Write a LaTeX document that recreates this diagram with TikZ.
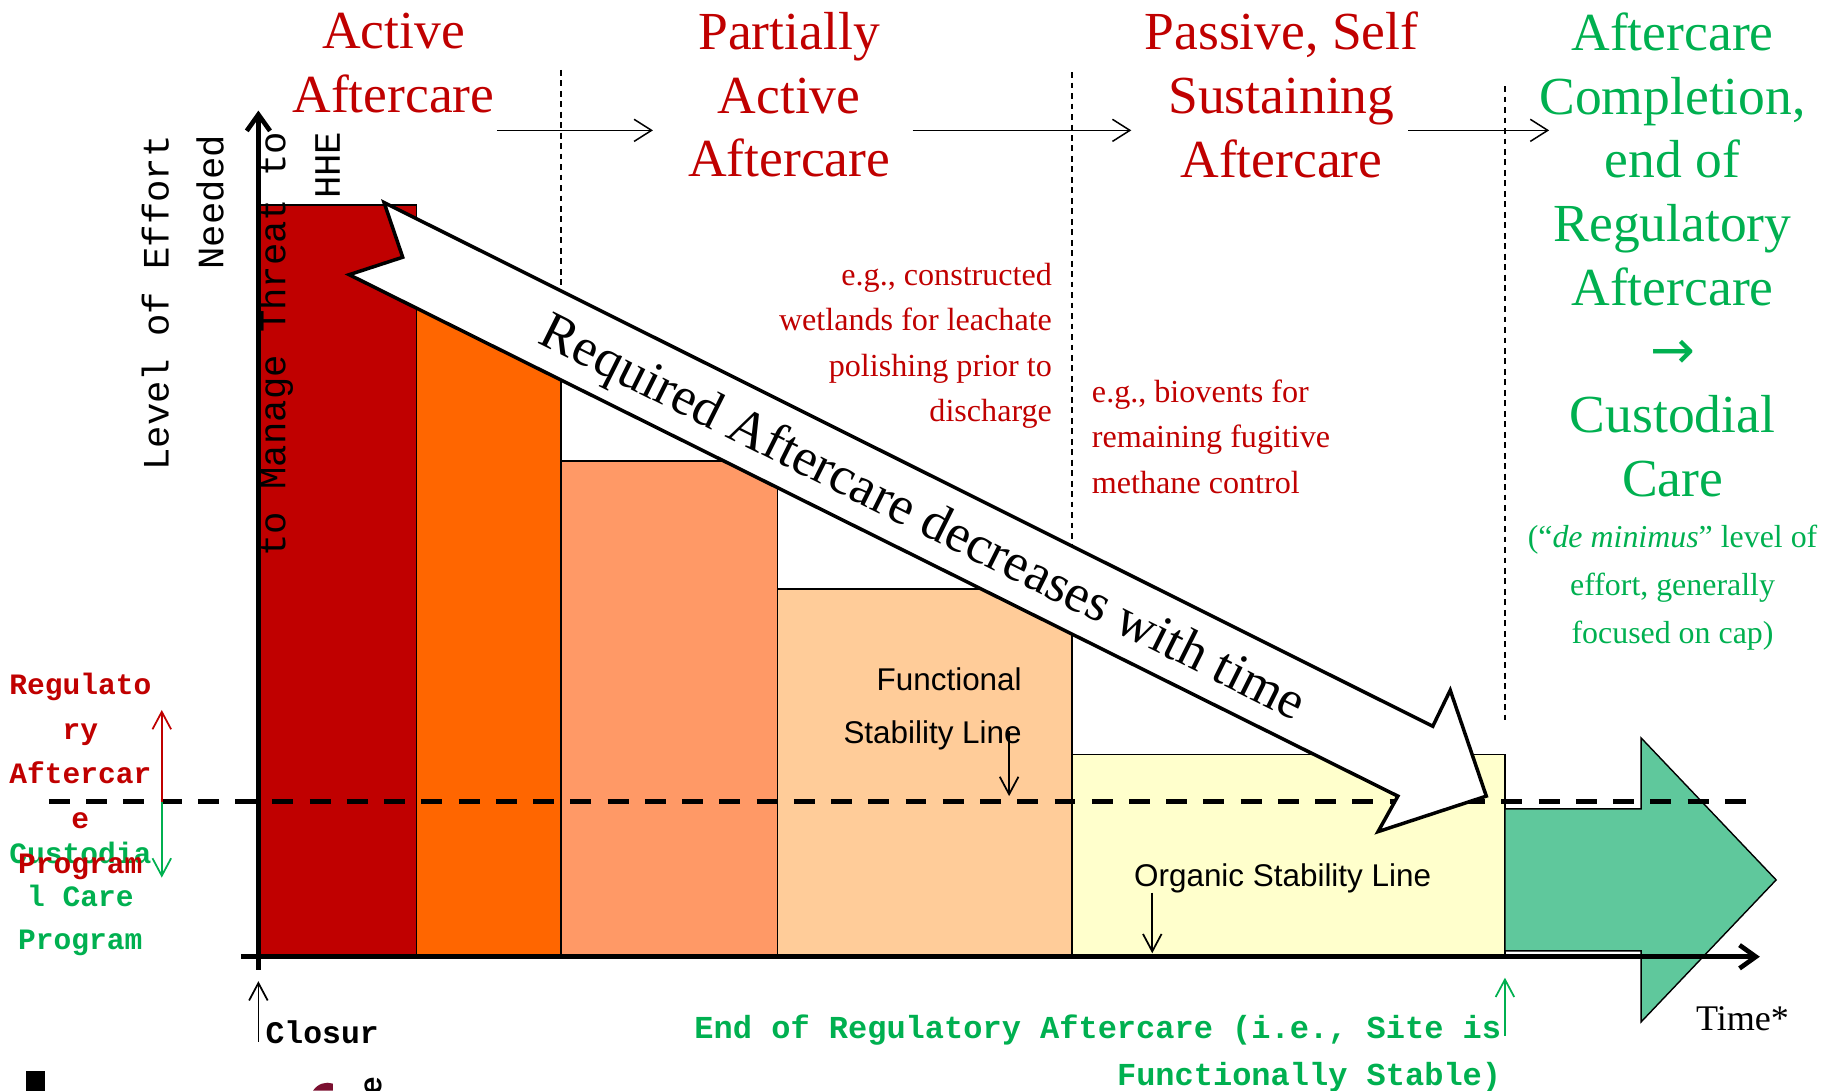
\documentclass[tikz,border=0pt]{standalone}
\usepackage{fontspec}
\setmainfont{Liberation Serif}
\newfontfamily\courier{Liberation Mono}
\newfontfamily\arial{Liberation Sans}
\newfontfamily\symb{DejaVu Sans}
\usetikzlibrary{arrows.meta}

\definecolor{barred}{HTML}{C00000}
\definecolor{barorange}{HTML}{FF6600}
\definecolor{barsalmon}{HTML}{FF9966}
\definecolor{barpeach}{HTML}{FFCC99}
\definecolor{baryellow}{HTML}{FFFFCC}
\definecolor{custgreen}{HTML}{5FC89C}
\definecolor{txtred}{HTML}{C00000}
\definecolor{txtgreen}{HTML}{00B050}
\definecolor{logored}{HTML}{7B1030}

\tikzset{
  bar/.style={draw=black, line width=1.2pt},
  phase/.style={font=\fontsize{46}{54.7}\selectfont, align=center, inner sep=0pt},
  note/.style={text=txtred, font=\fontsize{27.6}{39}\selectfont, inner sep=0pt},
  mono/.style={font=\courier\bfseries\fontsize{25.4}{38.5}\selectfont, inner sep=0pt, align=center},
  ylab/.style={font=\courier\fontsize{32}{47}\selectfont, rotate=90, align=right, inner sep=0pt, anchor=east},
  mainaxis/.style={line width=4pt, -{Straight Barb[length=14pt,width=20pt]}},
  phasearrow/.style={line width=1.3pt, -{Straight Barb[length=15pt,width=19pt]}},
  divider/.style={line width=1.3pt, dash pattern=on 5pt off 4pt},
  threshold/.style={line width=4.3pt, dash pattern=on 18pt off 14pt},
  pointer/.style={line width=1.5pt, -{Straight Barb[length=15pt,width=16pt]}},
}

\begin{document}
\begin{tikzpicture}[x=1pt,y=-1pt]
    \useasboundingbox (0,0) rectangle (1568,937);

    % stepped bars of aftercare effort
    \draw[bar, fill=barred]    (222,176) rectangle (358,822);
    \draw[bar, fill=barorange] (358,258) rectangle (482,822);
    \draw[bar, fill=barsalmon] (482,396) rectangle (668,822);
    \draw[bar, fill=barpeach]  (668,506) rectangle (921,822);
    \draw[bar, fill=baryellow] (921,648) rectangle (1293,822);

    % custodial care arrow
    \draw[bar, fill=custgreen] (1293,695) -- (1410,695) -- (1410,634) -- (1526,756)
        -- (1410,878) -- (1410,817) -- (1293,817) -- cycle;

    % phase dividers
    \draw[divider] (482,60) -- (482,300);
    \draw[divider] (921,62) -- (921,500);
    \draw[divider] (1293,74) -- (1293,621);

    % functional stability level
    \draw[threshold] (42,689) -- (1500,689);

    % big white arrow
    \draw[line width=3pt, fill=white, line join=miter] (330,174) -- (1231,624) -- (1246,593)
        -- (1277,684) -- (1184,714.5) -- (1201,684) -- (300,236) -- (346,221) -- cycle;
    \node[font=\fontsize{46}{54}\selectfont, rotate=-26.52, inner sep=0pt] (trend) at (792,447)
        {Required Aftercare decreases with time};

    % axes
    \draw[mainaxis] (222,833) -- (222,95);
    \draw[mainaxis] (207,822) -- (1512,822);
    \node[ylab] (effort) at (157,116) {Level of Effort\\Needed};
    \node[ylab] (threat) at (257,113) {to Manage Threat to\\HHE};
    \node[font=\fontsize{31}{36}\selectfont, inner sep=0pt, anchor=west] (time) at (1457,875) {Time*};

    % phase titles
    \node[phase, text=txtred] (active)  at (338,54)   {Active\\Aftercare};
    \node[phase, text=txtred] (partial) at (678,81.5) {Partially\\Active\\Aftercare};
    \node[phase, text=txtred] (passive) at (1101,81.5) {Passive, Self\\Sustaining\\Aftercare};
    \node[phase, text=txtgreen] (complete) at (1437,219)
        {Aftercare\\Completion,\\end of\\Regulatory\\Aftercare\\{\symb →}\\Custodial\\Care};
    \foreach \xa/\xb in {427/561, 784/972, 1210/1331} {
        \draw[phasearrow] (\xa,112) -- (\xb,112);
    }

    % examples
    \node[note, align=right, anchor=east] (wetland) at (904,297)
        {e.g., constructed\\wetlands for leachate\\polishing prior to\\discharge};
    \node[note, align=left, anchor=west] (biovent) at (938,375)
        {e.g., biovents for\\remaining fugitive\\methane control};
    \node[text=txtgreen, font=\fontsize{27.4}{41.5}\selectfont, align=center, inner sep=0pt] (minimus) at (1437,505)
        {(“\textit{de minimus}” level of\\effort, generally\\focused on cap)};

    % stability lines
    \node[font=\arial\fontsize{27}{46}\selectfont, align=right, anchor=east, inner sep=0pt] (functional) at (878,609)
        {Functional\\Stability Line};
    \node[font=\arial\fontsize{27}{32}\selectfont, inner sep=0pt] (organic) at (1102,755) {Organic Stability Line};
    \draw[pointer] (867,628) -- (867,684);
    \draw[pointer] (990,767) -- (990,819);

    % regulatory / custodial labels
    \node[mono, text=txtgreen, font=\courier\bfseries\fontsize{25.4}{37}\selectfont] (custod) at (69,772) {Custodia\\l Care\\Program};
    \node[mono, text=txtred] (regul) at (69,667) {Regulato\\ry\\Aftercar\\e\\Program};
    \coordinate (lvl) at (139,689);
    \draw[pointer, draw=txtred] (lvl) -- (139,610);
    \draw[pointer, draw=txtgreen] (lvl) -- (139,754);

    % time markers
    \node[font=\courier\bfseries\fontsize{27.5}{40}\selectfont, text=txtgreen, align=right, anchor=east, inner sep=0pt] (endreg) at (1290,905)
        {End of Regulatory Aftercare (i.e., Site is\\Functionally Stable)};
    \draw[pointer, draw=txtgreen] (1293,890) -- (1293,840);
    \node[font=\courier\bfseries\fontsize{27}{42}\selectfont, anchor=west, inner sep=0pt] (closure) at (228,886.5) {Closur};
    \node[font=\courier\bfseries\fontsize{27}{32}\selectfont, rotate=90, inner sep=0pt] (closuretail) at (320.5,933) {e};
    \draw[pointer] (222,895) -- (222,843);

    % clipped marks at the bottom edge
    \fill (22,920) rectangle (38.5,937);
    \fill[logored] (269,937) .. controls (273,931) and (280,929) .. (286,931) -- (286,937) -- cycle;
\end{tikzpicture}
\end{document}
